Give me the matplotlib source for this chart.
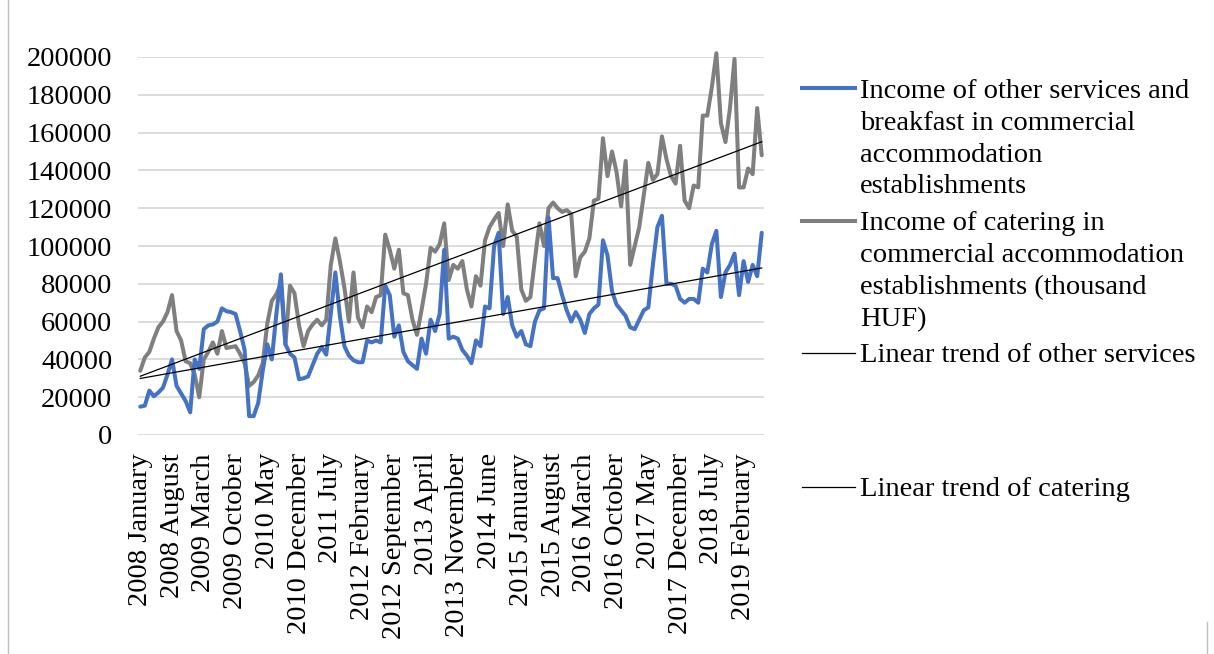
import numpy as np
import matplotlib
matplotlib.use("Agg")
import matplotlib.pyplot as plt
from matplotlib.lines import Line2D

plt.rcParams['font.family'] = ['Liberation Serif', 'DejaVu Serif']

# ---------------- data ----------------
other_services = [
    15000, 15500, 23500, 20500, 22500, 25000, 32000, 40000, 26000, 22000, 18000, 12000,
    40000, 35000, 56000, 58000, 58500, 60000, 67000, 65500, 65000, 64000, 55000, 45000,
    10000, 10000, 17000, 34000, 48000, 40000, 64000, 85000, 48000, 43000, 41000, 29500,
    30000, 31000, 37000, 43000, 46500, 42500, 64000, 86000, 63000, 47000, 42000, 39500,
    38500, 38500, 50000, 49000, 50000, 49000, 79000, 74000, 52000, 58000, 44000, 39000,
    37000, 35000, 51000, 43000, 61000, 55000, 64000, 98000, 51000, 52000, 51000, 45000,
    42000, 38000, 50000, 47000, 68000, 67000, 100000, 107000, 64000, 73000, 58000, 52000,
    55000, 48000, 47000, 60000, 66000, 67000, 115000, 83000, 83000, 74000, 66000, 60000,
    65000, 61000, 54000, 64000, 67000, 69000, 103000, 95000, 76000, 69000, 66000, 63000,
    57000, 56000, 61000, 66000, 67500, 90000, 110000, 116000, 80000, 80000, 79000, 72000,
    70000, 72000, 72000, 70000, 88000, 86000, 101000, 108000, 73000, 86000, 90000, 96000,
    74000, 92000, 81000, 90000, 84000, 107000,
]
catering = [
    34000, 41000, 44000, 51000, 57000, 60000, 65000, 74000, 55000, 50000, 39000, 38000,
    32000, 20000, 40000, 44000, 49000, 43000, 55000, 46000, 46500, 47000, 43000, 38000,
    26000, 28000, 31500, 38000, 59000, 71000, 74500, 80000, 48000, 79000, 75000, 58000,
    47000, 55000, 58500, 61000, 58000, 61000, 90000, 104000, 92000, 78000, 60000, 86000,
    62000, 57000, 68000, 65000, 73000, 74000, 106000, 98000, 88000, 98000, 75000, 74000,
    61000, 53000, 66000, 80000, 99000, 97000, 101000, 112000, 82000, 90000, 88000, 92000,
    77000, 68000, 84000, 79000, 103000, 110000, 114000, 117500, 100000, 122000, 108000, 105000,
    77000, 71000, 73000, 93000, 112000, 100000, 120000, 123000, 120000, 118000, 119000, 117000,
    84000, 94000, 97000, 104000, 124000, 125000, 157000, 137000, 150000, 139000, 121000, 145000,
    90000, 100000, 110000, 127000, 144000, 135000, 138000, 158000, 146000, 137000, 133000, 153000,
    124000, 120000, 132000, 131000, 169000, 169000, 184000, 202000, 165000, 155000, 173000, 199000,
    131000, 131000, 141000, 138000, 173000, 148000,
]
tick_labels = [
    "2008 January", "2008 August", "2009 March", "2009 October", "2010 May",
    "2010 December", "2011 July", "2012 February", "2012 September", "2013 April",
    "2013 November", "2014 June", "2015 January", "2015 August", "2016 March",
    "2016 October", "2017 May", "2017 December", "2018 July", "2019 February",
]
y_ticks = [0, 20000, 40000, 60000, 80000, 100000, 120000, 140000, 160000, 180000, 200000]
legend_labels = [
    ["Income of other services and", "breakfast in commercial",
     "accommodation", "establishments"],
    ["Income of catering in", "commercial accommodation",
     "establishments (thousand", "HUF)"],
    ["Linear trend of other services"],
    ["Linear trend of catering"],
]

# ---------------- figure ----------------
W, H = 1214, 654
fig = plt.figure(figsize=(W / 100, H / 100), dpi=100)

def fx(x):
    return x / W

def fy(y):
    return 1 - y / H

ax_left, ax_right, ax_top, ax_bottom = 138, 764, 57, 435
ax = fig.add_axes([fx(ax_left), fy(ax_bottom), (ax_right - ax_left) / W,
                   (ax_bottom - ax_top) / H])

n = len(other_services)
x = np.arange(n)
blue = "#4472C4"
gray = "#7F7F7F"
FS = 20.5

for v in y_ticks:
    ax.axhline(v, color="#D9D9D9", lw=1.3, zorder=0)

ax.plot(x, other_services, color=blue, lw=2.9, solid_joinstyle="round",
        solid_capstyle="round", clip_on=False, zorder=3)
ax.plot(x, catering, color=gray, lw=2.9, solid_joinstyle="round",
        solid_capstyle="round", clip_on=False, zorder=2)

# linear trends (least squares, as Excel)
for series in (other_services, catering):
    k, b = np.polyfit(x, series, 1)
    ax.plot(x, k * x + b, color="black", lw=0.9, zorder=4, clip_on=False)

ax.set_xlim(-0.5, n - 0.5)
ax.set_ylim(0, 200000)
ax.set_yticks(y_ticks)
ax.set_yticklabels([str(v) for v in y_ticks])
ax.set_xticks(np.arange(0, n, 7)[:len(tick_labels)])
ax.set_xticklabels(tick_labels, rotation=90, va="top", ha="center")
ax.tick_params(axis="y", length=0, pad=18.5, labelsize=FS)
ax.tick_params(axis="x", length=0, pad=13, labelsize=FS)
for lab in ax.get_xticklabels() + ax.get_yticklabels():
    lab.set_color("black")
for s in ax.spines.values():
    s.set_visible(False)
ax.set_facecolor("none")

# ---------------- legend (manual, Excel-like) ----------------
entries = [
    (blue, 2.9, 88),
    (gray, 2.9, 221),
    ("black", 0.9, 353),
    ("black", 0.9, 487),
]
line_gap = 32
for (col, lw, yc), lines in zip(entries, legend_labels):
    fig.add_artist(Line2D([fx(802), fx(855)], [fy(yc), fy(yc)], color=col, lw=lw,
                          transform=fig.transFigure))
    for j, t in enumerate(lines):
        fig.text(fx(860), fy(yc + j * line_gap), t, fontsize=FS, ha="left",
                 va="center_baseline", color="black")

# chart border fragments
fig.add_artist(Line2D([fx(8), fx(8)], [0, 1], color="#BFBFBF", lw=1.0,
                      transform=fig.transFigure))
fig.add_artist(Line2D([fx(1207), fx(1207)], [fy(654), fy(622)], color="#BFBFBF",
                      lw=1.0, transform=fig.transFigure))

fig.savefig("out.png", dpi=100)
